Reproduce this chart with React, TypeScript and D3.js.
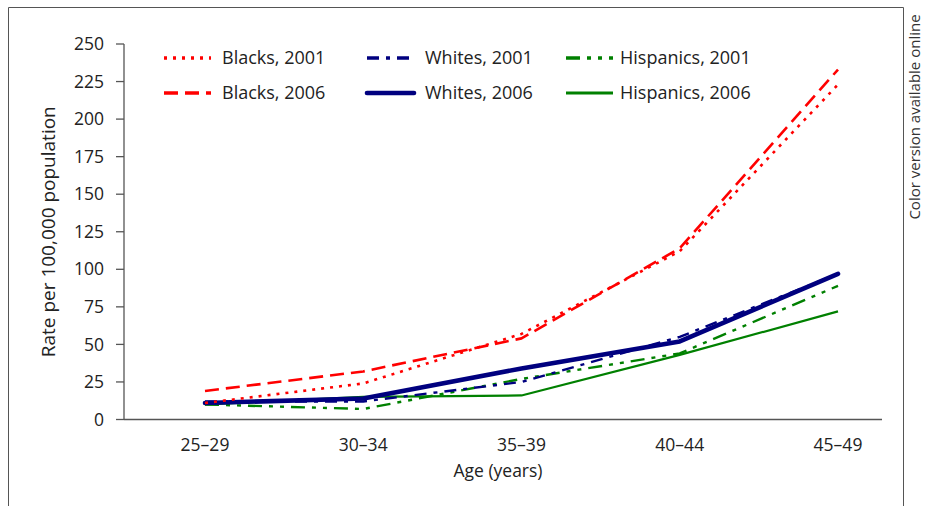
import React from "react";
import * as d3 from "d3";

const ageGroups = ["25–29", "30–34", "35–39", "40–44", "45–49"];
const yTicks = [0, 25, 50, 75, 100, 125, 150, 175, 200, 225, 250];

const blacks2001 = [11, 24, 57, 112, 223];
const blacks2006 = [19, 32, 54, 114, 233];
const whites2001 = [12, 12, 25, 55, 97];
const whites2006 = [11, 14, 34, 52, 97];
const hispanics2001 = [10, 7, 27, 44, 89];
const hispanics2006 = [10, 15, 16, 43, 72];

const seriesNames = [
  "Blacks, 2001",
  "Whites, 2001",
  "Hispanics, 2001",
  "Blacks, 2006",
  "Whites, 2006",
  "Hispanics, 2006",
];

const RED = "#ff0000";
const NAVY = "#00007f";
const GREEN = "#008000";

const styles: Record<string, { color: string; width: number; dash: string | null; cap: string }> = {
  "Blacks, 2001": { color: RED, width: 2.6, dash: "3,6", cap: "butt" },
  "Blacks, 2006": { color: RED, width: 2.6, dash: "14,7", cap: "butt" },
  "Whites, 2001": { color: NAVY, width: 2.4, dash: "12,7,4,7", cap: "butt" },
  "Whites, 2006": { color: NAVY, width: 4.6, dash: null, cap: "round" },
  "Hispanics, 2001": { color: GREEN, width: 2.4, dash: "14,7,4,7,4,7", cap: "butt" },
  "Hispanics, 2006": { color: GREEN, width: 2.2, dash: null, cap: "butt" },
};

const dataByName: Record<string, number[]> = {
  "Blacks, 2001": blacks2001,
  "Blacks, 2006": blacks2006,
  "Whites, 2001": whites2001,
  "Whites, 2006": whites2006,
  "Hispanics, 2001": hispanics2001,
  "Hispanics, 2006": hispanics2006,
};

const drawOrder = [
  "Hispanics, 2006",
  "Hispanics, 2001",
  "Whites, 2001",
  "Whites, 2006",
  "Blacks, 2006",
  "Blacks, 2001",
];

const FONT = "'Open Sans', 'Noto Sans', sans-serif";
const TEXT = "#222";
const AXIS = "#555";

export default function App() {
  const W = 940;
  const H = 506;
  const x = d3.scalePoint<string>().domain(ageGroups).range([205, 838]);
  const y = d3.scaleLinear().domain([0, 250]).range([419.5, 44]);
  const axisX0 = 124;
  const axisX1 = 882;

  const line = (vals: number[]) =>
    d3
      .line<number>()
      .x((_, i) => x(ageGroups[i]) as number)
      .y((v) => y(v))(vals) || "";

  const legendCols = [164, 367, 566];
  const legendRows = [58, 93];

  return (
    <svg
      width={W}
      height={H}
      style={{ position: "absolute", left: 0, top: 0, background: "#fff" }}
      fontFamily={FONT}
    >
      <rect x={0} y={0} width={W} height={H} fill="#fff" />
      {/* outer frame */}
      <path d={`M8.5,${H + 2}V7.5H903.5V${H + 2}`} fill="none" stroke={AXIS} strokeWidth={1} />
      <text
        transform={`translate(920,117) rotate(-90)`}
        textAnchor="middle"
        fontSize={15}
        fill="#333"
      >
        Color version available online
      </text>

      {/* y axis */}
      <line x1={axisX0} x2={axisX0} y1={y(250)} y2={y(0)} stroke={AXIS} strokeWidth={1.3} />
      {yTicks.map((t) => (
        <g key={t}>
          <line x1={axisX0 - 8} x2={axisX0} y1={y(t)} y2={y(t)} stroke={AXIS} strokeWidth={1.3} />
          <text x={104} y={y(t)} dy="0.35em" textAnchor="end" fontSize={17.5} fill={TEXT}>
            {t}
          </text>
        </g>
      ))}
      <text
        transform={`translate(55,${(y(0) + y(250)) / 2}) rotate(-90)`}
        textAnchor="middle"
        fontSize={19}
        fill={TEXT}
      >
        Rate per 100,000 population
      </text>

      {/* x axis */}
      <line x1={axisX0} x2={axisX1} y1={y(0)} y2={y(0)} stroke={AXIS} strokeWidth={1.3} />
      {ageGroups.map((g) => (
        <text key={g} x={x(g)} y={451} textAnchor="middle" fontSize={17.5} fill={TEXT}>
          {g}
        </text>
      ))}
      <text x={498} y={477} textAnchor="middle" fontSize={17.5} fill={TEXT}>
        Age (years)
      </text>

      {/* series */}
      {drawOrder.map((name) => {
        const s = styles[name];
        return (
          <path
            key={name}
            d={line(dataByName[name])}
            fill="none"
            stroke={s.color}
            strokeWidth={s.width}
            strokeDasharray={s.dash ?? undefined}
            strokeLinecap={s.cap as any}
            strokeLinejoin="round"
          />
        );
      })}

      {/* legend */}
      {seriesNames.map((name, i) => {
        const col = i % 3;
        const row = Math.floor(i / 3);
        const s = styles[name];
        const lx = legendCols[col];
        const ly = legendRows[row];
        return (
          <g key={name}>
            <line
              x1={lx}
              x2={lx + 47}
              y1={ly}
              y2={ly}
              stroke={s.color}
              strokeWidth={name === "Whites, 2006" ? 4.6 : name === "Hispanics, 2006" ? 3 : 3.4}
              strokeDasharray={s.dash ?? undefined}
              strokeLinecap={s.cap as any}
            />
            <text x={lx + (col === 2 ? 54 : 58)} y={ly} dy="0.35em" fontSize={18} fill={TEXT}>
              {name}
            </text>
          </g>
        );
      })}
    </svg>
  );
}
